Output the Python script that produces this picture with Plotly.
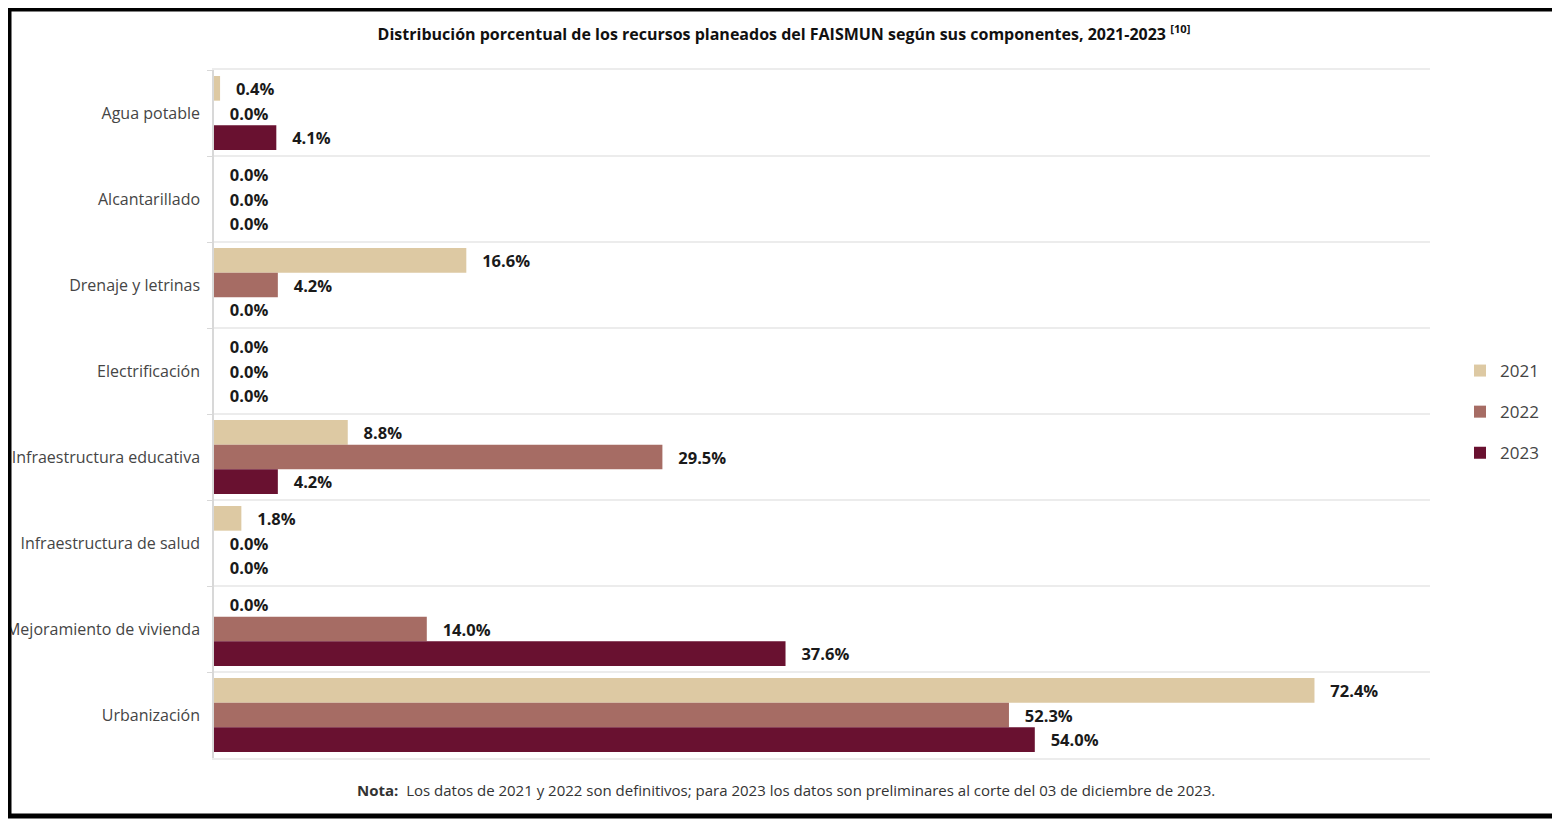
import plotly.graph_objects as go

categorias = [
    "Agua potable",
    "Alcantarillado",
    "Drenaje y letrinas",
    "Electrificación",
    "Infraestructura educativa",
    "Infraestructura de salud",
    "Mejoramiento de vivienda",
    "Urbanización",
]
anios = ["2021", "2022", "2023"]
valores_2021 = [0.4, 0.0, 16.6, 0.0, 8.8, 1.8, 0.0, 72.4]
valores_2022 = [0.0, 0.0, 4.2, 0.0, 29.5, 0.0, 14.0, 52.3]
valores_2023 = [4.1, 0.0, 0.0, 0.0, 4.2, 0.0, 37.6, 54.0]
colores = ["#DDC9A3", "#A66C64", "#691130"]

titulo = ("Distribución porcentual de los recursos planeados del FAISMUN "
          "según sus componentes, 2021-2023 <sup>[10]</sup>")
nota = ("<b>Nota:</b>  Los datos de 2021 y 2022 son definitivos; para 2023 los datos "
        "son preliminares al corte del 03 de diciembre de 2023.")

W, H = 1552, 811
ML, MR, MT, MB = 206, 130, 62, 61
PW, PH = W - ML - MR, H - MT - MB

fig = go.Figure()
for anio, vals, color in zip(anios, [valores_2021, valores_2022, valores_2023], colores):
    fig.add_trace(go.Bar(
        y=categorias,
        x=vals,
        name=anio,
        orientation="h",
        marker=dict(color=color, line=dict(width=0)),
        texttemplate="\u00a0\u00a0\u00a0<b>%{x:.1f}%</b>",
        textposition="outside",
        textfont=dict(family="Open Sans", size=16.5, color="#1a1a1a"),
        cliponaxis=False,
        legendgroup=anio,
    ))

fig.update_layout(
    width=W,
    height=H,
    barmode="group",
    bargap=0.14,
    bargroupgap=0,
    plot_bgcolor="white",
    paper_bgcolor="white",
    margin=dict(l=ML, r=MR, t=MT, b=MB, autoexpand=False),
    title=dict(
        text=titulo,
        x=0.5,
        xref="container",
        y=1 - 26 / H,
        yref="container",
        xanchor="center",
        yanchor="middle",
        font=dict(family="Open Sans", size=16, color="#111111", weight="bold"),
    ),
    legend=dict(
        x=(1460 - 214) / PW,
        y=0.5 + 2 / PH,
        xanchor="left",
        yanchor="middle",
        font=dict(family="Open Sans", size=17, color="#444444"),
        tracegroupgap=16,
        itemwidth=30,
    ),
    showlegend=True,
)

fig.update_xaxes(
    range=[0, 80],
    showgrid=False,
    showticklabels=False,
    zeroline=False,
    showline=True,
    mirror=True,
    linecolor="#ececec",
    linewidth=1.5,
    automargin=False,
)
fig.update_yaxes(
    type="category",
    autorange="reversed",
    tickson="boundaries",
    showgrid=True,
    gridcolor="#ececec",
    gridwidth=1.5,
    ticks="outside",
    ticklen=5,
    tickcolor="#d8d8d8",
    showline=True,
    linecolor="#d8d8d8",
    linewidth=1.5,
    ticklabelstandoff=9,
    automargin=False,
    tickfont=dict(family="Open Sans", size=16, color="#454545"),
)

fig.add_annotation(
    text=nota,
    xref="paper",
    yref="paper",
    x=(778 - ML) / PW,
    y=-32 / PH,
    xanchor="center",
    yanchor="middle",
    showarrow=False,
    font=dict(family="Open Sans", size=15, color="#333333"),
)

# marco negro alrededor de la imagen
fig.add_shape(
    type="rect",
    xref="paper",
    yref="paper",
    x0=(1 - ML) / PW,
    x1=(W - 2 - ML) / PW,
    y0=-(MB - 3) / PH,
    y1=1 + (MT - 1) / PH,
    line=dict(color="black", width=5),
    layer="above",
)

fig.write_html("out.html")
